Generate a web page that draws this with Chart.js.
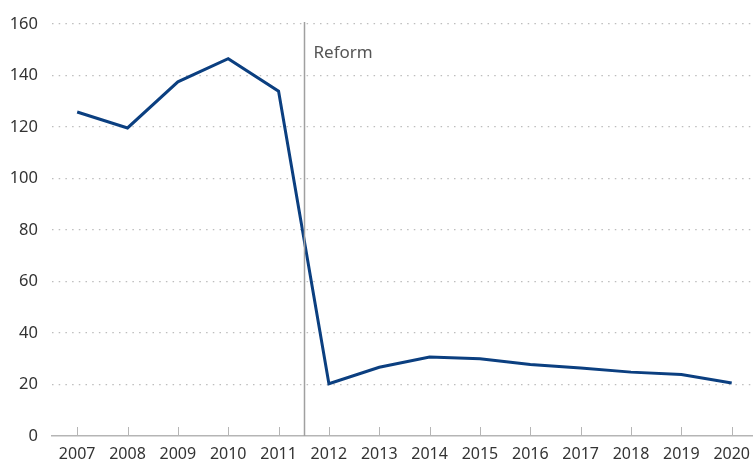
<!DOCTYPE html>
<html>
<head>
<meta charset="utf-8">
<script src="https://cdn.jsdelivr.net/npm/chart.js@4.4.0/dist/chart.umd.min.js"></script>
<style>
  html, body { margin: 0; padding: 0; background: #fff; overflow: hidden; }
  /* the plot runs a few pixels past the right edge, as in the original */
  #wrap { width: 759px; height: 461px; position: relative; }
</style>
</head>
<body>
<div id="wrap"><canvas id="chart"></canvas></div>
<script>
// ===== DATA =====
const years = ['2007','2008','2009','2010','2011','2012','2013','2014','2015','2016','2017','2018','2019','2020'];
const values = [125.8, 119.6, 137.5, 146.5, 133.9, 20.3, 26.7, 30.7, 30.0, 27.8, 26.4, 24.8, 23.9, 20.6];
const yTicks = [0, 20, 40, 60, 80, 100, 120, 140, 160];
const reformLabel = 'Reform';
const reformAfter = '2011'; // line sits between this year and the next

const FONT = "'Noto Sans', 'Open Sans', sans-serif";

// ===== PLUGIN: reform line + inner ticks =====
const extras = {
  id: 'extras',
  afterDraw(chart) {
    const ctx = chart.ctx;
    const x = chart.scales.x, y = chart.scales.y;
    const area = chart.chartArea;
    ctx.save();
    // small tick marks pointing up from the axis
    ctx.strokeStyle = '#b5b5b5';
    ctx.lineWidth = 1;
    years.forEach((yr, i) => {
      const px = Math.round(x.getPixelForValue(i)) + 0.5;
      ctx.beginPath();
      ctx.moveTo(px, area.bottom);
      ctx.lineTo(px, area.bottom - 9);
      ctx.stroke();
    });
    // reform vertical line
    const i = years.indexOf(reformAfter);
    const rx = Math.round((x.getPixelForValue(i) + x.getPixelForValue(i + 1)) / 2) + 0.5;
    ctx.strokeStyle = '#a0a0a0';
    ctx.lineWidth = 1.5;
    ctx.beginPath();
    ctx.moveTo(rx, area.top - 2);
    ctx.lineTo(rx, area.bottom);
    ctx.stroke();
    ctx.fillStyle = '#555';
    ctx.font = '17px ' + FONT;
    ctx.textBaseline = 'middle';
    ctx.fillText(reformLabel, rx + 9, y.getPixelForValue(148.8));
    ctx.restore();
  }
};

new Chart(document.getElementById('chart'), {
  type: 'line',
  data: {
    labels: years,
    datasets: [{
      data: values,
      borderColor: '#0b3f80',
      borderWidth: 3,
      pointRadius: 0,
      tension: 0,
      fill: false,
    }]
  },
  options: {
    responsive: true,
    maintainAspectRatio: false,
    animation: false,
    plugins: { legend: { display: false }, tooltip: { enabled: false } },
    layout: { padding: { top: 16, right: 0, bottom: 0, left: 0 } },
    scales: {
      x: {
        offset: true,
        afterFit: (s) => { s.height = 25; },
        grid: { display: false, drawTicks: false },
        border: { display: true, color: '#b5b5b5', width: 1.5 },
        ticks: { color: '#333', font: { family: FONT, size: 16 }, padding: 9, maxRotation: 0, autoSkip: false }
      },
      y: {
        min: 0,
        max: 160,
        afterBuildTicks: (s) => { s.ticks = yTicks.map(v => ({ value: v })); },
        afterFit: (s) => { s.width = 52; },
        grid: {
          color: (c) => c.tick && c.tick.value === 0 ? 'rgba(0,0,0,0)' : '#bdbdbd',
          lineWidth: 1.2,
          drawTicks: false,
        },
        border: { display: false, dash: [1.5, 5.2] },
        ticks: { color: '#333', font: { family: FONT, size: 16.5 }, padding: 14 }
      }
    }
  },
  plugins: [extras]
});
</script>
</body>
</html>
